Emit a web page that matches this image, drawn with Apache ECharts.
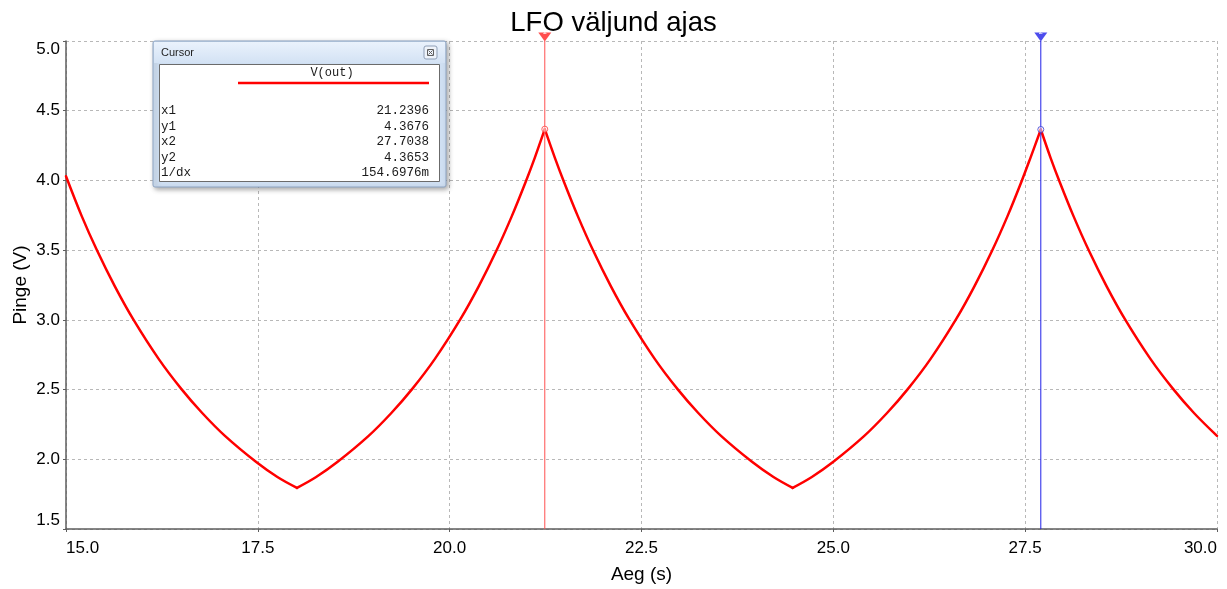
<!DOCTYPE html>
<html>
<head>
<meta charset="utf-8">
<script src="https://cdn.jsdelivr.net/npm/echarts@6/dist/echarts.min.js"></script>
<style>
  html, body { margin: 0; padding: 0; background: #ffffff; }
  #chart { width: 1227px; height: 589px; }
</style>
</head>
<body>
<div id="chart"></div>
<script>
// Simulated LFO output voltage over time
const aegS = [
  15.000, 15.205, 15.405, 15.635, 15.875, 16.205, 16.505, 16.775, 17.075, 17.475, 17.755, 18.010,
  18.260, 18.540, 18.940, 19.240, 19.510, 19.810, 20.140, 20.380, 20.610, 20.810, 20.990, 21.110, 21.2396,
  21.370, 21.490, 21.670, 21.870, 22.100, 22.340, 22.670, 22.970, 23.240, 23.540, 23.940, 24.220, 24.470,
  24.720, 25.000, 25.400, 25.700, 25.970, 26.270, 26.600, 26.840, 27.070, 27.270, 27.450, 27.570, 27.7038,
  27.830, 27.950, 28.130, 28.330, 28.560, 28.800, 29.130, 29.430, 29.700, 30.000
];
const pingeV = [
  4.030, 3.744, 3.497, 3.242, 3.005, 2.722, 2.503, 2.332, 2.166, 1.982, 1.873, 1.795,
  1.873, 1.982, 2.166, 2.332, 2.503, 2.722, 3.005, 3.242, 3.497, 3.744, 3.989, 4.164, 4.3676,
  4.164, 3.989, 3.744, 3.497, 3.242, 3.005, 2.722, 2.503, 2.332, 2.166, 1.982, 1.873, 1.795,
  1.873, 1.982, 2.166, 2.332, 2.503, 2.722, 3.005, 3.242, 3.497, 3.744, 3.989, 4.164, 4.3653,
  4.164, 3.989, 3.744, 3.497, 3.242, 3.005, 2.722, 2.503, 2.332, 2.168
];

// Cursor positions and the readout shown in the cursor window
const cursorX = [21.2396, 27.7038];
const cursorY = [4.3676, 4.3653];
const cursorRowNames = ['x1', 'y1', 'x2', 'y2', '1/dx'];
const cursorRowValues = ['21.2396', '4.3676', '27.7038', '4.3653', '154.6976m'];

// Axis ranges
const xRange = { min: 15, max: 30, interval: 2.5 };
const yRange = { min: 1.5, max: 5.0, interval: 0.5 };

const FONT = '"Liberation Sans", Arial, sans-serif';
const MONO = '"Liberation Mono", "Courier New", monospace';
const GRID_COLOR = '#b8b8b8';
const AXIS_COLOR = '#5e5e5e';
const TRACE_COLOR = '#ff0000';

const chart = echarts.init(document.getElementById('chart'), null, { renderer: 'canvas' });

// The waveform is made of charge / discharge arcs meeting in sharp corners.
// Split it at every turning point so each arc is smoothed on its own and the
// corners stay sharp.
const curve = aegS.map((t, i) => [t, pingeV[i]]);
const arcs = [];
let start = 0;
for (let i = 1; i < curve.length - 1; i++) {
  const d1 = curve[i][1] - curve[i - 1][1];
  const d2 = curve[i + 1][1] - curve[i][1];
  if (d1 * d2 < 0) {
    arcs.push(curve.slice(start, i + 1));
    start = i;
  }
}
arcs.push(curve.slice(start));

const arcSeries = arcs.map(points => ({
  name: 'V(out)',
  type: 'line',
  data: points,
  showSymbol: false,
  smooth: 0.35,
  z: 3,
  lineStyle: { color: TRACE_COLOR, width: 2.5, cap: 'round', join: 'round' },
  itemStyle: { color: TRACE_COLOR }
}));

// Cursor window readout
const windowX = 153, windowY = 41, windowW = 293, windowH = 146;
const readout = [];
cursorRowNames.forEach((name, i) => {
  const y = 111 + i * 15.5;
  readout.push({
    type: 'text', x: 161, y: y, z: 110,
    style: { text: name, fontFamily: MONO, fontSize: 12.5, fill: '#1a1a1a',
             align: 'left', verticalAlign: 'middle', textAlign: 'left', textVerticalAlign: 'middle' }
  });
  readout.push({
    type: 'text', x: 429, y: y, z: 110,
    style: { text: cursorRowValues[i], fontFamily: MONO, fontSize: 12.5, fill: '#1a1a1a',
             align: 'right', verticalAlign: 'middle', textAlign: 'right', textVerticalAlign: 'middle' }
  });
});

const cursorWindow = [
  {
    type: 'rect', z: 100,
    shape: { x: windowX, y: windowY, width: windowW, height: windowH, r: 2 },
    style: { fill: '#cfdff2', stroke: '#8ea5c4', lineWidth: 1,
             shadowBlur: 5, shadowOffsetX: 2, shadowOffsetY: 2, shadowColor: 'rgba(0,0,0,0.35)' }
  },
  {
    type: 'rect', z: 101,
    shape: { x: windowX + 1, y: windowY + 1, width: windowW - 2, height: 21 },
    style: {
      fill: new echarts.graphic.LinearGradient(0, 0, 0, 1, [
        { offset: 0, color: '#eaf2fc' }, { offset: 1, color: '#d3e2f4' }
      ])
    }
  },
  {
    type: 'text', x: 161, y: 53, z: 105,
    style: { text: 'Cursor', fontFamily: FONT, fontSize: 11, fill: '#1e1e1e',
             align: 'left', verticalAlign: 'middle', textAlign: 'left', textVerticalAlign: 'middle' }
  },
  {
    type: 'rect', z: 105,
    shape: { x: 424, y: 46, width: 13, height: 13, r: 2 },
    style: { fill: '#eef3fa', stroke: '#8f9fb6', lineWidth: 1 }
  },
  {
    type: 'rect', z: 106,
    shape: { x: 427.5, y: 49.5, width: 6, height: 6 },
    style: { fill: 'none', stroke: '#606060', lineWidth: 1 }
  },
  {
    type: 'polyline', z: 107,
    shape: { points: [[428.5, 50.5], [432.5, 54.5]] },
    style: { stroke: '#606060', lineWidth: 1 }
  },
  {
    type: 'polyline', z: 107,
    shape: { points: [[432.5, 50.5], [428.5, 54.5]] },
    style: { stroke: '#606060', lineWidth: 1 }
  },
  {
    type: 'rect', z: 102,
    shape: { x: 159.5, y: 64.5, width: 280, height: 117 },
    style: { fill: '#ffffff', stroke: '#6b6b6b', lineWidth: 1 }
  },
  {
    type: 'text', x: 332, y: 73, z: 110,
    style: { text: 'V(out)', fontFamily: MONO, fontSize: 12, fill: '#1a1a1a',
             align: 'center', verticalAlign: 'middle', textAlign: 'center', textVerticalAlign: 'middle' }
  },
  {
    type: 'line', z: 110,
    shape: { x1: 238, y1: 83, x2: 429, y2: 83 },
    style: { stroke: TRACE_COLOR, lineWidth: 2.5 }
  }
].concat(readout);

const option = {
  backgroundColor: '#ffffff',
  animation: false,
  title: {
    text: 'LFO väljund ajas',
    left: 'center',
    top: 9,
    padding: 0,
    textStyle: { fontFamily: FONT, fontSize: 27.5, fontWeight: 'normal', color: '#000000' }
  },
  grid: { left: 66, right: 10, top: 41, bottom: 60, containLabel: false, outerBoundsMode: 'none' },
  xAxis: {
    type: 'value',
    min: xRange.min, max: xRange.max, interval: xRange.interval,
    name: 'Aeg (s)',
    nameLocation: 'middle',
    nameGap: 36,
    nameMoveOverlap: false,
    nameTextStyle: { fontFamily: FONT, fontSize: 19, color: '#000000' },
    axisLine: { show: true, onZero: false, lineStyle: { color: AXIS_COLOR, width: 1.5 } },
    axisTick: { show: true, length: 3, lineStyle: { color: AXIS_COLOR } },
    axisLabel: {
      fontFamily: FONT, fontSize: 17, color: '#000000', margin: 11,
      formatter: v => v.toFixed(1),
      alignMinLabel: 'left', alignMaxLabel: 'right'
    },
    splitLine: { show: true, lineStyle: { color: GRID_COLOR, type: [3, 3], width: 1 } }
  },
  yAxis: {
    type: 'value',
    min: yRange.min, max: yRange.max, interval: yRange.interval,
    name: 'Pinge (V)',
    nameLocation: 'middle',
    nameGap: 36,
    nameRotate: 90,
    nameMoveOverlap: false,
    nameTextStyle: { fontFamily: FONT, fontSize: 19, color: '#000000' },
    axisLine: { show: true, onZero: false, lineStyle: { color: AXIS_COLOR, width: 1.5 } },
    axisTick: { show: true, length: 3, lineStyle: { color: AXIS_COLOR } },
    axisLabel: {
      fontFamily: FONT, fontSize: 17, color: '#000000', margin: 6,
      formatter: v => v.toFixed(1),
      verticalAlignMinLabel: 'bottom', verticalAlignMaxLabel: 'top'
    },
    splitLine: { show: true, lineStyle: { color: GRID_COLOR, type: [3, 3], width: 1 } }
  },
  series: arcSeries.concat([
    // Cursor 1
    {
      type: 'line',
      data: [[cursorX[0], yRange.min], [cursorX[0], yRange.max]],
      showSymbol: false,
      z: 4,
      lineStyle: { color: '#ff5050', width: 1 }
    },
    // Cursor 2
    {
      type: 'line',
      data: [[cursorX[1], yRange.min], [cursorX[1], yRange.max]],
      showSymbol: false,
      z: 4,
      lineStyle: { color: '#2020e8', width: 1 }
    },
    // Cursor handles above the plot
    {
      type: 'scatter',
      data: [[cursorX[0], yRange.max]],
      symbol: 'triangle',
      symbolRotate: 180,
      symbolSize: [13, 9],
      symbolOffset: [0, -4],
      clip: false,
      z: 6,
      itemStyle: { color: '#ff2020' },
      label: { show: true, position: 'inside', formatter: '1', color: '#ffffff', fontSize: 7, fontWeight: 'bold', offset: [0, -5] }
    },
    {
      type: 'scatter',
      data: [[cursorX[1], yRange.max]],
      symbol: 'triangle',
      symbolRotate: 180,
      symbolSize: [13, 9],
      symbolOffset: [0, -4],
      clip: false,
      z: 6,
      itemStyle: { color: '#2020e8' },
      label: { show: true, position: 'inside', formatter: '2', color: '#ffffff', fontSize: 7, fontWeight: 'bold', offset: [0, -5] }
    },
    // Cursor pick points on the curve
    {
      type: 'scatter',
      data: [[cursorX[0], cursorY[0]]],
      symbol: 'circle',
      symbolSize: 6,
      z: 7,
      itemStyle: { color: 'rgba(255,255,255,0.6)', borderColor: '#ff4040', borderWidth: 1 }
    },
    {
      type: 'scatter',
      data: [[cursorX[1], cursorY[1]]],
      symbol: 'circle',
      symbolSize: 6,
      z: 7,
      itemStyle: { color: 'rgba(255,255,255,0.6)', borderColor: '#3a3ad0', borderWidth: 1 }
    }
  ]),
  graphic: cursorWindow
};

chart.setOption(option);
</script>
</body>
</html>
